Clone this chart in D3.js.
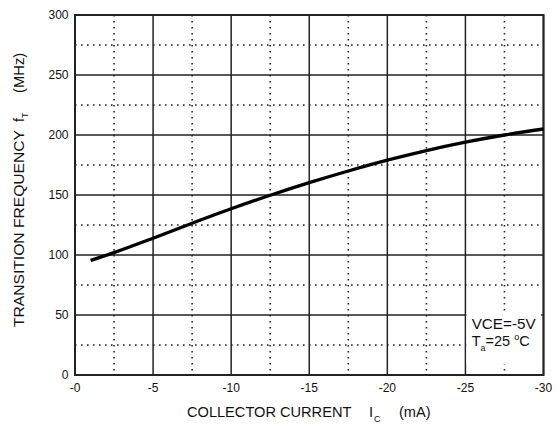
<!DOCTYPE html>
<html>
<head>
<meta charset="utf-8">
<script src="https://cdn.jsdelivr.net/npm/d3@7"></script>
<style>
  body { margin: 0; background: #fff; }
  text { font-family: "Liberation Sans", Arial, sans-serif; fill: #111; }
</style>
</head>
<body>
<div id="chart"></div>
<script>
// Collector current (mA) vs transition frequency (MHz)
const currentMA = [-1, -2.5, -5, -7.5, -10, -12.5, -15, -17.5, -20, -22.5, -25, -27.5, -30];
const freqMHz  = [95.5, 102, 114, 126.5, 138.5, 149.8, 160.3, 170, 179, 187, 194, 200, 205];

const xMajor = [0, -5, -10, -15, -20, -25, -30];
const xMinor = [-2.5, -7.5, -12.5, -17.5, -22.5, -27.5];
const xLabels = ['-0', '-5', '-10', '-15', '-20', '-25', '-30'];
const yMajor = [0, 50, 100, 150, 200, 250, 300];
const yMinor = [25, 75, 125, 175, 225, 275];

const width = 556, height = 425;
const margin = { top: 15, right: 12.5, bottom: 50, left: 75 };
const w = width - margin.left - margin.right;
const h = height - margin.top - margin.bottom;

const svg = d3.select('#chart').append('svg')
    .attr('width', width)
    .attr('height', height);

const g = svg.append('g')
    .attr('transform', `translate(${margin.left},${margin.top})`);

const x = d3.scaleLinear().domain([0, -30]).range([0, w]);
const y = d3.scaleLinear().domain([0, 300]).range([h, 0]);

// dotted minor grid
g.selectAll('.vminor').data(xMinor).enter().append('line')
    .attr('x1', d => x(d)).attr('x2', d => x(d))
    .attr('y1', 0).attr('y2', h)
    .attr('stroke', '#222').attr('stroke-width', 1.6)
    .attr('stroke-dasharray', '1.6,4.4');
g.selectAll('.hminor').data(yMinor).enter().append('line')
    .attr('x1', 0).attr('x2', w)
    .attr('y1', d => y(d)).attr('y2', d => y(d))
    .attr('stroke', '#222').attr('stroke-width', 1.6)
    .attr('stroke-dasharray', '1.6,4.4');

// solid major grid
g.selectAll('.vmajor').data(xMajor).enter().append('line')
    .attr('x1', d => x(d)).attr('x2', d => x(d))
    .attr('y1', 0).attr('y2', h)
    .attr('stroke', '#222').attr('stroke-width', 1.5);
g.selectAll('.hmajor').data(yMajor).enter().append('line')
    .attr('x1', 0).attr('x2', w)
    .attr('y1', d => y(d)).attr('y2', d => y(d))
    .attr('stroke', '#222').attr('stroke-width', 1.5);

// frame
g.append('rect')
    .attr('width', w).attr('height', h)
    .attr('fill', 'none').attr('stroke', '#222').attr('stroke-width', 2);

// curve
const line = d3.line()
    .x((d, i) => x(currentMA[i]))
    .y(d => y(d))
    .curve(d3.curveMonotoneX);
g.append('path')
    .datum(freqMHz)
    .attr('fill', 'none')
    .attr('stroke', '#000')
    .attr('stroke-width', 3.3)
    .attr('d', line);

// condition box
g.append('rect')
    .attr('x', x(-25) + 1).attr('y', y(52))
    .attr('width', x(-29.85) - x(-25) - 1).attr('height', y(9) - y(52))
    .attr('fill', '#fff');
g.append('text')
    .attr('x', x(-25.4)).attr('y', y(38.5))
    .attr('font-size', 14.5).attr('textLength', 64).attr('lengthAdjust', 'spacingAndGlyphs')
    .text('VCE=-5V');
const ta = g.append('text')
    .attr('x', x(-25.4)).attr('y', y(24.5))
    .attr('font-size', 14.5);
ta.append('tspan').text('T');
ta.append('tspan').attr('font-size', 9).attr('dy', 5).text('a');
ta.append('tspan').attr('dy', -5).text('=25 ');
ta.append('tspan').attr('font-size', 9).attr('dy', -6).text('o');
ta.append('tspan').attr('dy', 6).text('C');

// tick labels
g.selectAll('.xlab').data(xMajor).enter().append('text')
    .attr('x', d => x(d)).attr('y', h + 16.5)
    .attr('text-anchor', 'middle')
    .attr('font-size', 12)
    .text((d, i) => xLabels[i]);
g.selectAll('.ylab').data(yMajor).enter().append('text')
    .attr('x', -6.5).attr('y', d => y(d) + 4.3)
    .attr('text-anchor', 'end')
    .attr('font-size', 12)
    .text(d => d);

// x axis title
svg.append('text')
    .attr('x', 187).attr('y', 417)
    .attr('font-size', 14.6)
    .text('COLLECTOR CURRENT');
svg.append('text').attr('x', 369).attr('y', 417).attr('font-size', 14.6).text('I');
svg.append('text').attr('x', 374).attr('y', 422).attr('font-size', 9).text('C');
svg.append('text').attr('x', 399).attr('y', 417).attr('font-size', 14.6).text('(mA)');

// y axis title
const yt = svg.append('g').attr('transform', 'translate(23.5,0) rotate(-90)');
yt.append('text').attr('x', -327).attr('y', 0)
    .attr('font-size', 14.8).attr('textLength', 197).attr('lengthAdjust', 'spacingAndGlyphs')
    .text('TRANSITION FREQUENCY');
yt.append('text').attr('x', -122).attr('y', 0).attr('font-size', 14.8).text('f');
yt.append('text').attr('x', -118).attr('y', 4).attr('font-size', 9).text('T');
yt.append('text').attr('x', -93).attr('y', 0).attr('font-size', 14.8).text('(MHz)');
</script>
</body>
</html>
